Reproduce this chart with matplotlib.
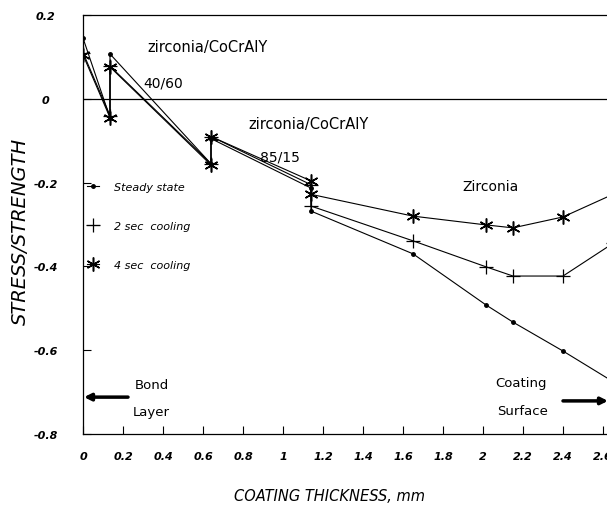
import matplotlib
matplotlib.use("Agg")
import matplotlib.pyplot as plt

plt.rcParams['font.family'] = ['DejaVu Sans']

# Data (coating thickness in mm; repeated x = interface jumps)
x_pos = [0, 0.135, 0.135, 0.64, 0.64, 1.14, 1.14, 1.65, 2.015, 2.15, 2.4, 2.65]
steady_state = [0.145, -0.045, 0.107, -0.155, -0.095, -0.213, -0.268, -0.370, -0.492, -0.533, -0.602, -0.675]
cooling_2s = [0.11, -0.04, 0.078, -0.155, -0.09, -0.205, -0.256, -0.339, -0.401, -0.423, -0.423, -0.345]
cooling_4s = [0.105, -0.045, 0.076, -0.158, -0.09, -0.196, -0.228, -0.280, -0.301, -0.308, -0.282, -0.228]

series_labels = ["Steady state", "2 sec  cooling", "4 sec  cooling"]
x_ticks = [0, 0.2, 0.4, 0.6, 0.8, 1, 1.2, 1.4, 1.6, 1.8, 2, 2.2, 2.4, 2.6]
x_tick_labels = ["0", "0.2", "0.4", "0.6", "0.8", "1", "1.2", "1.4", "1.6", "1.8", "2", "2.2", "2.4", "2.6"]
y_ticks = [0.2, 0, -0.2, -0.4, -0.6, -0.8]
y_tick_labels = ["0.2", "0", "-0.2", "-0.4", "-0.6", "-0.8"]

W, H = 607, 506
fig = plt.figure(figsize=(W / 100, H / 100), dpi=100)
ax = fig.add_axes([83 / W, (H - 435) / H, (W - 83) / W, (435 - 16) / H])

ax.plot(x_pos, steady_state, color='black', lw=0.8, marker='o', ms=2.5,
        label=series_labels[0])
ax.plot(x_pos, cooling_2s, color='black', lw=0.8, marker='+', ms=10, mew=0.9,
        label=series_labels[1])
ax.plot(x_pos, cooling_4s, color='black', lw=0.8, marker=(6, 2, 0), ms=10, mew=1.1,
        label=series_labels[2])

ax.axhline(0, color='black', lw=0.9)

ax.set_xlim(0, 2.62)
ax.set_ylim(-0.8, 0.2)
ax.set_xticks(x_ticks)
ax.set_xticklabels(x_tick_labels)
ax.set_yticks(y_ticks)
ax.set_yticklabels(y_tick_labels)
ax.tick_params(axis='both', direction='in', length=6, width=0.8, labelsize=8)
ax.tick_params(axis='x', pad=12)
ax.tick_params(axis='y', pad=27)
for lab in ax.get_xticklabels() + ax.get_yticklabels():
    lab.set_fontstyle('italic')
    lab.set_fontweight('bold')
for lab in ax.get_yticklabels():
    lab.set_horizontalalignment('center')
ax.spines['right'].set_visible(False)
for s in ['left', 'top', 'bottom']:
    ax.spines[s].set_linewidth(0.9)

ax.set_xlabel("COATING THICKNESS, mm", fontsize=10.5, fontstyle='italic')
ax.set_ylabel("STRESS/STRENGTH", fontsize=14, fontstyle='italic')
ax.xaxis.set_label_coords((330 - 83) / (W - 83), -(489 - 435) / (435 - 16))
ax.yaxis.set_label_coords(-(83 - 30) / (W - 83), (435 - 231) / (435 - 16))

leg = ax.legend(loc='upper left', bbox_to_anchor=(-0.012, 0.625), frameon=False,
                handlelength=1.1, handletextpad=1.4, labelspacing=2.6,
                prop={'style': 'italic', 'size': 8})

txt = dict(fontsize=10.5, color='black')
ax.text(0.32, 0.124, "zirconia/CoCrAlY", va='center', ha='left', **txt)
ax.text(0.30, 0.04, "40/60", va='center', ha='left', fontsize=10)
ax.text(0.825, -0.058, "zirconia/CoCrAlY", va='center', ha='left', **txt)
ax.text(0.885, -0.137, "85/15", va='center', ha='left', fontsize=10)
ax.text(1.895, -0.208, "Zirconia", va='center', ha='left', fontsize=10)
ax.text(0.26, -0.683, "Bond", va='center', ha='left', fontsize=9.5)
ax.text(0.25, -0.747, "Layer", va='center', ha='left', fontsize=9.5)
ax.text(2.06, -0.678, "Coating", va='center', ha='left', fontsize=9.5)
ax.text(2.07, -0.743, "Surface", va='center', ha='left', fontsize=9.5)

ax.annotate("", xy=(0.005, -0.712), xytext=(0.225, -0.712),
            arrowprops=dict(arrowstyle='-|>', lw=2.5, color='black',
                            mutation_scale=10, shrinkA=0, shrinkB=0))
ax.annotate("", xy=(2.625, -0.721), xytext=(2.4, -0.721), annotation_clip=False,
            arrowprops=dict(arrowstyle='-|>', lw=2.5, color='black',
                            mutation_scale=10, shrinkA=0, shrinkB=0))

fig.savefig("out.png", dpi=100)
